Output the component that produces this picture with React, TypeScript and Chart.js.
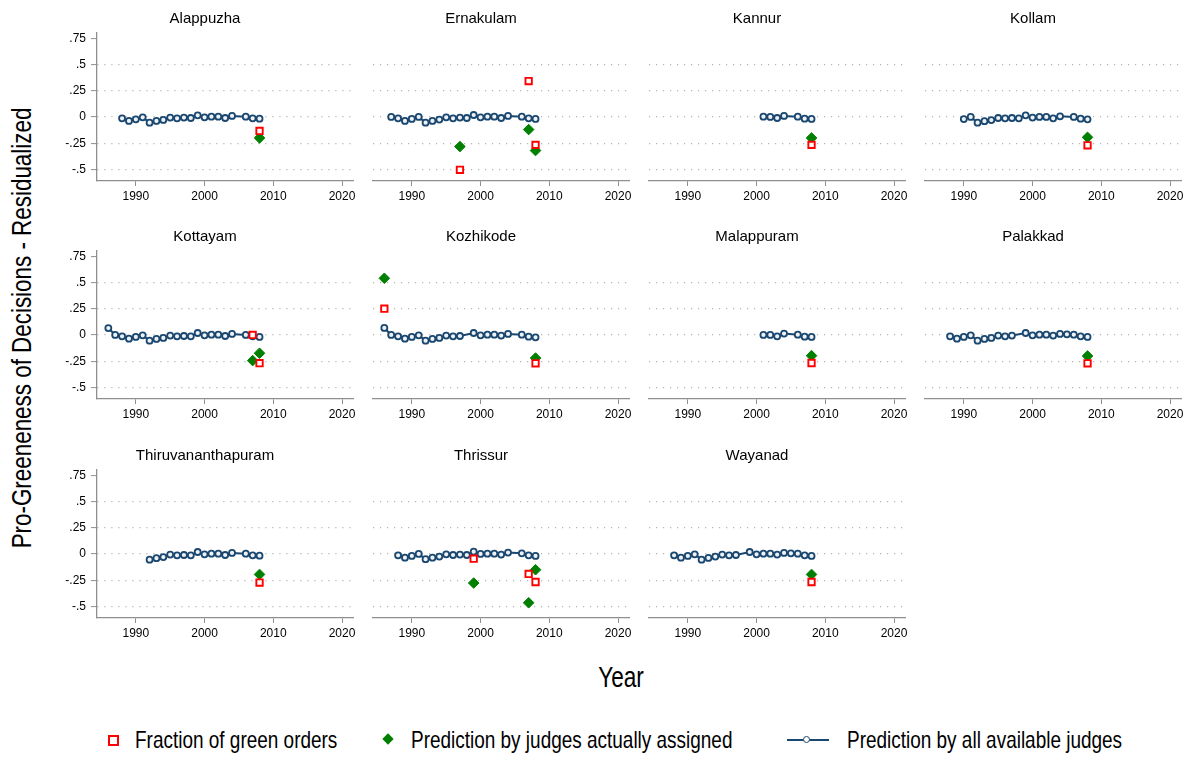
import React, { useEffect, useRef } from "react";
import { Chart, registerables } from "chart.js";

Chart.register(...registerables);

// ---------- data ----------
const districts = [
  "Alappuzha", "Ernakulam", "Kannur", "Kollam",
  "Kottayam", "Kozhikode", "Malappuram", "Palakkad",
  "Thiruvananthapuram", "Thrissur", "Wayanad",
];

const years = [
  1986, 1987, 1988, 1989, 1990, 1991, 1992, 1993, 1994, 1995, 1996, 1997,
  1998, 1999, 2000, 2001, 2002, 2003, 2004, 2005, 2006, 2007, 2008,
];
const markerYears = [1986, 1997, 1999, 2007, 2008];

const xTicks = [1990, 2000, 2010, 2020];
const yTicks = [-0.5, -0.25, 0, 0.25, 0.5, 0.75];
const yTickLabels = ["-.5", "-.25", "0", ".25", ".5", ".75"];

// Prediction by all available judges (aligned with years)
const alappuzhaAll = [null, null, -0.013, -0.038, -0.022, -0.003, -0.054, -0.038, -0.028, -0.006, -0.013, -0.006, -0.010, 0.016, -0.003, 0.003, 0.003, -0.010, 0.010, null, 0.003, -0.013, -0.016];
const ernakulamAll = [null, 0.000, -0.013, -0.038, -0.019, 0.000, -0.054, -0.038, -0.025, -0.003, -0.013, -0.006, -0.010, 0.019, -0.003, 0.003, 0.003, -0.010, 0.010, null, 0.003, -0.013, -0.019];
const kannurAll = [null, null, null, null, null, null, null, null, null, null, null, null, null, null, null, 0.003, 0.000, -0.010, 0.010, null, 0.003, -0.016, -0.019];
const kollamAll = [null, null, null, null, -0.020, 0.000, -0.054, -0.040, -0.030, -0.010, -0.013, -0.010, -0.013, 0.016, -0.006, 0.000, 0.000, -0.013, 0.006, null, 0.000, -0.016, -0.022];
const kottayamAll = [0.066, 0.000, -0.013, -0.035, -0.019, -0.003, -0.054, -0.038, -0.028, -0.006, -0.013, -0.010, -0.013, 0.019, -0.003, 0.003, 0.003, -0.010, 0.010, null, 0.000, -0.013, -0.019];
const kozhikodeAll = [0.067, 0.000, -0.013, -0.035, -0.019, -0.003, -0.054, -0.038, -0.028, -0.006, -0.013, -0.010, null, 0.019, -0.003, 0.003, 0.003, -0.006, 0.010, null, 0.003, -0.016, -0.022];
const malappuramAll = [null, null, null, null, null, null, null, null, null, null, null, null, null, null, null, 0.000, 0.000, -0.013, 0.013, null, 0.003, -0.016, -0.019];
const palakkadAll = [null, null, -0.013, -0.035, -0.019, -0.003, -0.054, -0.038, -0.028, -0.006, -0.013, -0.006, null, 0.019, -0.003, 0.003, 0.003, -0.006, 0.010, 0.006, 0.003, -0.013, -0.019];
const thiruvananthapuramAll = [null, null, null, null, null, null, -0.054, -0.040, -0.030, -0.006, -0.013, -0.010, -0.013, 0.019, -0.003, 0.003, 0.003, -0.010, 0.010, null, 0.003, -0.013, -0.016];
const thrissurAll = [null, null, -0.013, -0.035, -0.019, 0.000, -0.050, -0.035, -0.025, -0.003, -0.010, -0.006, -0.010, 0.022, 0.000, 0.003, 0.003, -0.006, 0.013, null, 0.006, -0.013, -0.019];
const wayanadAll = [null, null, -0.013, -0.035, -0.019, -0.003, -0.054, -0.038, -0.025, -0.006, -0.013, -0.010, null, 0.019, -0.003, 0.003, 0.003, -0.006, 0.010, 0.006, 0.003, -0.013, -0.019];

// Fraction of green orders (aligned with markerYears)
const alappuzhaFrac = [null, null, null, null, -0.133];
const ernakulamFrac = [null, -0.503, null, 0.342, -0.266];
const kannurFrac = [null, null, null, null, -0.266];
const kollamFrac = [null, null, null, null, -0.270];
const kottayamFrac = [null, null, null, 0.000, -0.269];
const kozhikodeFrac = [0.250, null, null, null, -0.270];
const malappuramFrac = [null, null, null, null, -0.267];
const palakkadFrac = [null, null, null, null, -0.270];
const thiruvananthapuramFrac = [null, null, null, null, -0.272];
const thrissurFrac = [null, null, -0.045, -0.190, -0.267];
const wayanadFrac = [null, null, null, null, -0.267];

// Prediction by judges actually assigned (aligned with markerYears)
const alappuzhaPred = [null, null, null, null, -0.200];
const ernakulamPred = [null, -0.282, null, -0.120, -0.320];
const kannurPred = [null, null, null, null, -0.200];
const kollamPred = [null, null, null, null, -0.194];
const kottayamPred = [null, null, null, -0.244, -0.174];
const kozhikodePred = [0.540, null, null, null, -0.220];
const malappuramPred = [null, null, null, null, -0.197];
const palakkadPred = [null, null, null, null, -0.200];
const thiruvananthapuramPred = [null, null, null, null, -0.195];
const thrissurPred = [null, null, -0.277, -0.465, -0.150];
const wayanadPred = [null, null, null, null, -0.195];

const allSeries = [alappuzhaAll, ernakulamAll, kannurAll, kollamAll, kottayamAll, kozhikodeAll, malappuramAll, palakkadAll, thiruvananthapuramAll, thrissurAll, wayanadAll];
const fracSeries = [alappuzhaFrac, ernakulamFrac, kannurFrac, kollamFrac, kottayamFrac, kozhikodeFrac, malappuramFrac, palakkadFrac, thiruvananthapuramFrac, thrissurFrac, wayanadFrac];
const predSeries = [alappuzhaPred, ernakulamPred, kannurPred, kollamPred, kottayamPred, kozhikodePred, malappuramPred, palakkadPred, thiruvananthapuramPred, thrissurPred, wayanadPred];

// ---------- style ----------
const FONT = "'Liberation Sans', Arial, sans-serif";
const NAVY = "#1a476f";
const RED = "#ff0000";
const GREEN = "#008000";
const AXIS = "#8f8f8f";
const GRID = "#b4b4b4";

const COL_LEFT = [97, 373, 649, 925];
const ROW_TOP = [0, 218, 437];
const Y_AXIS_W = 40;
const RIGHT_PAD = 12;
const PLOT_W = 256;
const CANVAS_W = Y_AXIS_W + PLOT_W + RIGHT_PAD;
const CANVAS_H = 206;

function toPoints(xs: number[], ys: (number | null)[]) {
  const out: { x: number; y: number }[] = [];
  xs.forEach((x, i) => {
    const y = ys[i];
    if (y !== null && y !== undefined) out.push({ x, y });
  });
  return out;
}

function Panel({ idx }: { idx: number }) {
  const ref = useRef<HTMLCanvasElement | null>(null);
  const col = idx % 4;
  const row = Math.floor(idx / 4);
  useEffect(() => {
    if (!ref.current) return;
    const first = col === 0;
    const chart = new Chart(ref.current, {
      type: "line",
      data: {
        datasets: [
          {
            label: "Fraction of green orders",
            data: toPoints(markerYears, fracSeries[idx]),
            showLine: false,
            pointStyle: "rect",
            pointRadius: 4.5,
            pointBorderWidth: 1.9,
            pointBorderColor: RED,
            pointBackgroundColor: "#ffffff",
            borderColor: RED,
            order: 0,
          },
          {
            label: "Prediction by judges actually assigned",
            data: toPoints(markerYears, predSeries[idx]),
            showLine: false,
            pointStyle: "rectRot",
            pointRadius: 5.3,
            pointBorderWidth: 1,
            pointBorderColor: GREEN,
            pointBackgroundColor: GREEN,
            borderColor: GREEN,
            order: 1,
          },
          {
            label: "Prediction by all available judges",
            data: toPoints(years, allSeries[idx]),
            borderColor: NAVY,
            borderWidth: 2,
            pointStyle: "circle",
            pointRadius: 3,
            pointBorderWidth: 1.8,
            pointBorderColor: NAVY,
            pointBackgroundColor: "#eef2f6",
            tension: 0,
            order: 2,
          },
        ],
      },
      options: {
        animation: false,
        responsive: false,
        events: [],
        layout: { padding: { left: 0, right: RIGHT_PAD, top: 0, bottom: 0 } },
        plugins: {
          legend: { display: false },
          tooltip: { enabled: false },
          title: {
            display: true,
            text: districts[idx],
            color: "#000",
            font: { family: FONT, size: 15, weight: "normal" },
            padding: { top: 10, bottom: 5 },
          },
        },
        scales: {
          x: {
            type: "linear",
            min: 1984.35,
            max: 2021.6,
            afterBuildTicks: (s: any) => {
              s.ticks = xTicks.map((v) => ({ value: v }));
            },
            afterFit: (s: any) => {
              s.height = 25;
            },
            ticks: {
              color: "#000",
              font: { family: FONT, size: 12 },
              padding: 3,
              maxRotation: 0,
              autoSkip: false,
              callback: (v: any) => String(v),
            },
            grid: {
              drawOnChartArea: false,
              drawTicks: true,
              tickLength: 5,
              tickColor: AXIS,
              tickWidth: 1,
            },
            border: { display: true, color: AXIS, width: 1.3 },
          },
          y: {
            type: "linear",
            min: -0.61,
            max: 0.8,
            afterBuildTicks: (s: any) => {
              s.ticks = yTicks.map((v) => ({ value: v }));
            },
            afterFit: (s: any) => {
              s.width = Y_AXIS_W;
            },
            ticks: {
              display: first,
              color: "#000",
              font: { family: FONT, size: 12 },
              padding: 5,
              callback: (v: any) => {
                const k = yTicks.indexOf(Number(v));
                return k >= 0 ? yTickLabels[k] : "";
              },
            },
            grid: {
              drawOnChartArea: true,
              drawTicks: first,
              tickLength: 6,
              tickColor: AXIS,
              tickWidth: 1,
              tickBorderDash: [],
              lineWidth: 1.2,
              color: (ctx: any) =>
                ctx.tick && ctx.tick.value === 0.75 ? "rgba(0,0,0,0)" : GRID,
            },
            border: { display: first, color: AXIS, width: 1.3, dash: [1.2, 5.8] },
          },
        },
      },
    } as any);
    return () => chart.destroy();
  }, [idx, col]);
  return (
    <canvas
      ref={ref}
      width={CANVAS_W}
      height={CANVAS_H}
      style={{
        position: "absolute",
        left: COL_LEFT[col] - Y_AXIS_W,
        top: ROW_TOP[row],
        width: CANVAS_W,
        height: CANVAS_H,
      }}
    />
  );
}

const textBase: React.CSSProperties = {
  position: "absolute",
  fontFamily: FONT,
  color: "#000",
  whiteSpace: "nowrap",
  lineHeight: 1,
};

const legendText: React.CSSProperties = {
  ...textBase,
  top: 740,
  fontSize: 24,
  transformOrigin: "0 50%",
  transform: "translateY(-50%) scaleX(0.79)",
};

export default function App() {
  return (
    <div
      style={{
        position: "absolute",
        left: 0,
        top: 0,
        width: 1190,
        height: 757,
        overflow: "hidden",
        background: "#ffffff",
      }}
    >
      {districts.map((_, i) => (
        <Panel key={i} idx={i} />
      ))}
      <div
        style={{
          ...textBase,
          left: 22,
          top: 328,
          fontSize: 28,
          transform: "translate(-50%, -50%) rotate(-90deg) scaleX(0.8)",
        }}
      >
        Pro-Greeneness of Decisions - Residualized
      </div>
      <div
        style={{
          ...textBase,
          left: 621,
          top: 677,
          fontSize: 29,
          transform: "translate(-50%, -50%) scaleX(0.78)",
        }}
      >
        Year
      </div>
      {/* legend */}
      <div
        style={{
          position: "absolute",
          left: 108,
          top: 735,
          width: 7,
          height: 7,
          border: `2px solid ${RED}`,
          background: "#fff",
          boxSizing: "content-box",
        }}
      />
      <div style={{ ...legendText, left: 135 }}>Fraction of green orders</div>
      <div
        style={{
          position: "absolute",
          left: 384,
          top: 735,
          width: 8,
          height: 8,
          background: GREEN,
          transform: "rotate(45deg)",
        }}
      />
      <div style={{ ...legendText, left: 411 }}>Prediction by judges actually assigned</div>
      <div
        style={{
          position: "absolute",
          left: 787,
          top: 739,
          width: 42,
          height: 2,
          background: NAVY,
        }}
      />
      <div
        style={{
          position: "absolute",
          left: 803,
          top: 736,
          width: 5,
          height: 5,
          borderRadius: "50%",
          border: `1.5px solid ${NAVY}`,
          background: "#fff",
        }}
      />
      <div style={{ ...legendText, left: 847 }}>Prediction by all available judges</div>
    </div>
  );
}
